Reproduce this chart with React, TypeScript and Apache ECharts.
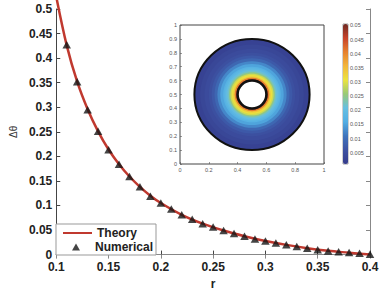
import React, { useEffect, useRef } from "react";
import * as echarts from "echarts";

// ---- Main plot data ----
const rNumerical = [
  0.11, 0.12, 0.13, 0.14, 0.15, 0.16, 0.17, 0.18, 0.19, 0.2,
  0.21, 0.22, 0.23, 0.24, 0.25, 0.26, 0.27, 0.28, 0.29, 0.3,
  0.31, 0.32, 0.33, 0.34, 0.35, 0.36, 0.37, 0.38, 0.39, 0.4,
];
const dThetaNumerical = [
  0.427, 0.352, 0.295, 0.251, 0.2134, 0.184, 0.159, 0.138, 0.119, 0.105,
  0.093, 0.081, 0.072, 0.063, 0.056, 0.049, 0.043, 0.0375, 0.032, 0.0277,
  0.0237, 0.0198, 0.0164, 0.0128, 0.0097, 0.0075, 0.0058, 0.0042, 0.0026, 0.0005,
];
const rTheory = [
  0.1, 0.11, 0.12, 0.13, 0.14, 0.15, 0.16, 0.17, 0.18, 0.19, 0.2,
  0.22, 0.24, 0.26, 0.28, 0.3, 0.32, 0.34, 0.36, 0.38, 0.4,
];
const dThetaTheory = [
  0.525, 0.426, 0.352, 0.296, 0.251, 0.214, 0.184, 0.159, 0.138, 0.12, 0.105,
  0.081, 0.063, 0.049, 0.0375, 0.0277, 0.0198, 0.013, 0.0076, 0.0038, 0.0,
];

// ---- Inset (annulus) data ----
const annulusCenter = [0.5, 0.5];
const annulusOuterRadius = 0.4;
const annulusInnerRadius = 0.1;
// band outer radius (drawn outer-first) and the value inside that band
const bandOuterRadius = [
  0.4, 0.36, 0.33, 0.3, 0.28, 0.26, 0.24, 0.22, 0.2,
  0.19, 0.18, 0.17, 0.16, 0.15, 0.14, 0.13, 0.12, 0.11,
];
const bandValue = [
  0.0025, 0.0035, 0.0045, 0.0055, 0.007, 0.009, 0.0125, 0.015, 0.017,
  0.0185, 0.02, 0.022, 0.025, 0.029, 0.031, 0.034, 0.041, 0.049,
];
const colorbarTicks = [0.005, 0.01, 0.015, 0.02, 0.025, 0.03, 0.035, 0.04, 0.045, 0.05];
const colorbarMin = 0.001;
const colorbarMax = 0.0505;
const colormap = [
  "#353b8c", "#3d52a2", "#3f74bc", "#52aee3", "#66bfe2",
  "#98c977", "#ebe33f", "#f2b63b", "#e6812e", "#c7432b", "#6e2a22",
];

const FONT = "'Liberation Sans', Arial, Helvetica, sans-serif";

export default function App() {
  const ref = useRef<HTMLDivElement>(null);
  useEffect(() => {
    document.body.style.margin = "0";
    const chart = echarts.init(ref.current!, null, { renderer: "svg" });
    const fmt = (v: number) => String(+Number(v).toFixed(4));
    const mainLabel = {
      fontFamily: FONT,
      fontWeight: "bold" as const,
      fontSize: 12,
      color: "#222",
    };
    const insetLabel = { fontFamily: FONT, fontSize: 5.5, color: "#555" };
    chart.setOption({
      animation: false,
      backgroundColor: "#fff",
      textStyle: { fontFamily: FONT },
      grid: [
        { left: 50, top: 9, width: 320, height: 253 },
        {
          left: 180, top: 25, width: 144, height: 139,
          show: true, backgroundColor: "#fff", borderColor: "#444", borderWidth: 1,
          z: 5,
        },
        {
          left: 343, top: 24, width: 5, height: 140,
          show: true, backgroundColor: "transparent", borderColor: "#888", borderWidth: 0.8,
        },
      ],
      xAxis: [
        {
          type: "value", gridIndex: 0, min: 0.1, max: 0.4, interval: 0.05,
          name: "r", nameLocation: "middle", nameGap: 15,
          nameTextStyle: { ...mainLabel },
          axisLine: { lineStyle: { color: "#444", width: 1 } },
          axisTick: { inside: true, length: 4, lineStyle: { color: "#444" } },
          axisLabel: { ...mainLabel, lineHeight: 11, margin: 7, formatter: fmt },
          splitLine: { show: false },
        },
        {
          type: "value", gridIndex: 0, position: "top", min: 0.1, max: 0.4, interval: 0.05,
          axisLine: { lineStyle: { color: "#888", width: 1 } },
          axisTick: { inside: true, length: 4, lineStyle: { color: "#888" } },
          axisLabel: { show: false },
          splitLine: { show: false },
        },
        {
          type: "value", gridIndex: 1, min: 0, max: 1, interval: 0.2,
          axisLine: { show: false },
          axisTick: { inside: true, length: 2, lineStyle: { color: "#555", width: 0.6 } },
          axisLabel: { ...insetLabel, margin: 3, formatter: fmt },
          splitLine: { show: false },
          z: 6,
        },
        {
          type: "value", gridIndex: 2, min: 0, max: 1, show: false,
        },
      ],
      yAxis: [
        {
          type: "value", gridIndex: 0, min: 0, max: 0.5, interval: 0.05,
          name: "Δθ", nameLocation: "middle", nameGap: 34, nameRotate: 90,
          nameTextStyle: { fontFamily: FONT, fontSize: 10, color: "#333" },
          axisLine: { show: true, lineStyle: { color: "#444", width: 1 } },
          axisTick: { show: true, inside: true, length: 4, lineStyle: { color: "#444" } },
          axisLabel: { ...mainLabel, lineHeight: 11, margin: 4, formatter: fmt },
          splitLine: { show: false },
        },
        {
          type: "value", gridIndex: 0, position: "right", min: 0, max: 0.5, interval: 0.05,
          axisLine: { show: true, lineStyle: { color: "#888", width: 1 } },
          axisTick: { show: true, inside: true, length: 4, lineStyle: { color: "#888" } },
          axisLabel: { show: false },
          splitLine: { show: false },
        },
        {
          type: "value", gridIndex: 1, min: 0, max: 1, interval: 0.1,
          axisLine: { show: false },
          axisTick: { show: true, inside: true, length: 2, lineStyle: { color: "#555", width: 0.6 } },
          axisLabel: { ...insetLabel, margin: 3, formatter: fmt },
          splitLine: { show: false },
          z: 6,
        },
        {
          type: "value", gridIndex: 2, position: "right", min: colorbarMin, max: colorbarMax,
          axisLine: { show: false },
          axisTick: {
            show: true, inside: false, length: 1.5, customValues: colorbarTicks,
            lineStyle: { color: "#777", width: 0.6 },
          },
          axisLabel: {
            ...insetLabel, margin: 2, customValues: colorbarTicks, formatter: fmt,
          },
          splitLine: { show: false },
        },
      ],
      visualMap: {
        type: "continuous",
        show: true,
        seriesIndex: [2],
        dimension: 1,
        min: colorbarMin,
        max: colorbarMax,
        calculable: false,
        hoverLink: false,
        left: 343,
        top: 24,
        padding: 0,
        itemWidth: 5,
        itemHeight: 140,
        text: null,
        inRange: { color: colormap },
      },
      legend: [
        {
          left: 56,
          top: 224,
          orient: "vertical",
          padding: [3, 19, 16, 6],
          itemWidth: 29,
          itemHeight: 7,
          backgroundColor: "#fff",
          borderColor: "#999",
          borderWidth: 1,
          borderRadius: 0,
          textStyle: { ...mainLabel },
          data: [{ name: "Theory", itemStyle: { opacity: 0 } }],
          z: 10,
        },
        {
          left: 72,
          top: 241,
          orient: "vertical",
          padding: 0,
          itemWidth: 8,
          itemHeight: 7,
          textStyle: { ...mainLabel, padding: [0, 0, 0, 10] },
          data: [{ name: "Numerical", icon: "triangle" }],
          z: 11,
        },
      ],
      series: [
        {
          name: "Theory",
          type: "line",
          xAxisIndex: 0,
          yAxisIndex: 0,
          data: rTheory.map((r, i) => [r, dThetaTheory[i]]),
          smooth: 0.35,
          symbol: "none",
          clip: false,
          lineStyle: { color: "#c0392f", width: 2.5 },
          itemStyle: { color: "#c0392f" },
          z: 2,
        },
        {
          name: "Numerical",
          type: "scatter",
          xAxisIndex: 0,
          yAxisIndex: 0,
          data: rNumerical.map((r, i) => [r, dThetaNumerical[i]]),
          symbol: "triangle",
          symbolSize: [8.5, 7.5],
          itemStyle: { color: "#151515" },
          z: 3,
        },
        {
          name: "field",
          type: "custom",
          xAxisIndex: 2,
          yAxisIndex: 2,
          data: bandOuterRadius.map((r, i) => [r, bandValue[i]]),
          encode: { x: 0, y: 1 },
          z: 7,
          renderItem: (params: any, api: any) => {
            const r = api.value(0);
            const c = api.coord(annulusCenter);
            const s = api.size([1, 1]);
            return {
              type: "ellipse",
              shape: { cx: c[0], cy: c[1], rx: r * s[0], ry: r * s[1] },
              style: { fill: api.visual("color") },
            };
          },
        },
        {
          name: "edges",
          type: "custom",
          xAxisIndex: 2,
          yAxisIndex: 2,
          data: [[annulusOuterRadius, annulusInnerRadius]],
          encode: { x: 0, y: 1 },
          z: 8,
          renderItem: (params: any, api: any) => {
            const ro = api.value(0);
            const ri = api.value(1);
            const c = api.coord(annulusCenter);
            const s = api.size([1, 1]);
            return {
              type: "group",
              children: [
                {
                  type: "ellipse",
                  shape: { cx: c[0], cy: c[1], rx: ro * s[0], ry: ro * s[1] },
                  style: { fill: "none", stroke: "#111", lineWidth: 2 },
                },
                {
                  type: "ellipse",
                  shape: { cx: c[0], cy: c[1], rx: ri * s[0], ry: ri * s[1] },
                  style: { fill: "#fff", stroke: "#111", lineWidth: 2.5 },
                },
              ],
            };
          },
        },
      ],
    });
    return () => chart.dispose();
  }, []);
  return (
    <div
      ref={ref}
      style={{ position: "fixed", left: 0, top: 0, width: 388, height: 295 }}
    />
  );
}
